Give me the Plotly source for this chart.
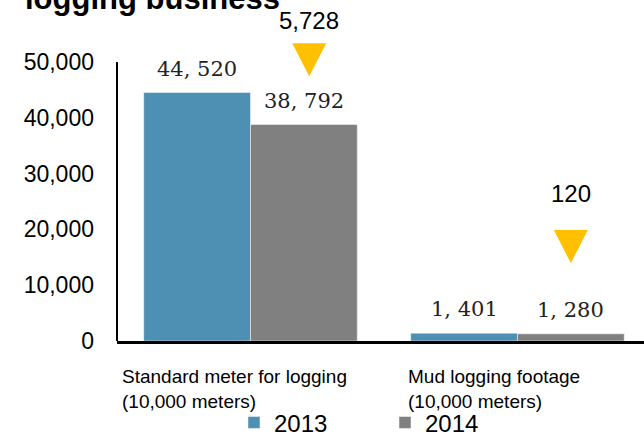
import plotly.graph_objects as go

categories = ["Standard meter for logging<br>(10,000 meters)", "Mud logging footage<br>(10,000 meters)"]
years = ["2013", "2014"]
values_2013 = [44520, 1401]
values_2014 = [38792, 1280]
decrease = [5728, 120]
y_ticks = [0, 10000, 20000, 30000, 40000, 50000]

colors = {"2013": "#4E90B4", "2014": "#808080"}
x_pos = [0, 1]

# layout placement for the decrease markers
tri_y = [50500, 17000]
tri_label_y = [57500, 26500]
tri_dx = [0.22, 0.2]

SANS = "Arial, Liberation Sans, sans-serif"
SERIF = "DejaVu Serif, Liberation Serif, serif"


def fmt(v):
    return f"{v:,}".replace(",", ", ")


fig = go.Figure()
for yr, vals, off in [("2013", values_2013, -0.4), ("2014", values_2014, 0.0)]:
    fig.add_trace(go.Bar(
        x=x_pos, y=vals, name=yr, width=0.4, offset=off,
        marker=dict(color=colors[yr], line=dict(color="rgba(255,255,255,0.6)", width=0.8)),
    ))
    for p, v in zip(x_pos, vals):
        fig.add_annotation(x=p + off + 0.2, y=v, yshift=24, text=fmt(v), showarrow=False,
                           font=dict(family=SERIF, size=21, color="#222"))

for p, dx, ty, ly, d in zip(x_pos, tri_dx, tri_y, tri_label_y, decrease):
    fig.add_shape(type="path", xref="x", yref="y", xsizemode="pixel", ysizemode="pixel",
                  xanchor=p + dx, yanchor=ty, path="M-17,16 L17,16 L0,-17 Z",
                  fillcolor="#FFC000", line=dict(width=0))
    fig.add_annotation(x=p + dx, y=ly, text=f"{d:,}", showarrow=False,
                       font=dict(family=SANS, size=24, color="black"))

label_x = [-0.49, 0.582]
for lx, cat in zip(label_x, categories):
    fig.add_annotation(x=lx, xref="x", y=-0.066, yref="paper", text=cat, showarrow=False,
                       xanchor="left", yanchor="top", align="left",
                       font=dict(family=SANS, size=19, color="black"))

fig.add_annotation(x=-0.178, xref="paper", y=1.005, yref="paper", text="<b>logging business</b>",
                   showarrow=False, xanchor="left", yanchor="middle",
                   font=dict(family=SANS, size=31, color="black"))

fig.add_shape(type="line", xref="paper", yref="y", x0=0, x1=0, y0=0, y1=y_ticks[-1],
              line=dict(color="black", width=2))

fig.update_layout(
    width=644, height=435,
    margin=dict(l=117, r=0, t=0, b=94, autoexpand=False),
    paper_bgcolor="white", plot_bgcolor="white",
    showlegend=True,
    legend=dict(orientation="h", x=0.222, xanchor="left", y=-0.24, yanchor="middle",
                font=dict(family=SANS, size=24, color="black"),
                itemwidth=30, entrywidth=106, bgcolor="rgba(0,0,0,0)"),
    xaxis=dict(range=[-0.5, 1.474], showticklabels=False, showgrid=False, zeroline=False,
               showline=True, linecolor="black", linewidth=3, ticks=""),
    yaxis=dict(range=[0, 61100], tickvals=y_ticks, tickformat=",", showgrid=False, zeroline=False,
               showline=False, ticks="", ticklabelstandoff=22,
               tickfont=dict(family=SANS, size=23, color="black")),
)

fig.write_html("out.html")
